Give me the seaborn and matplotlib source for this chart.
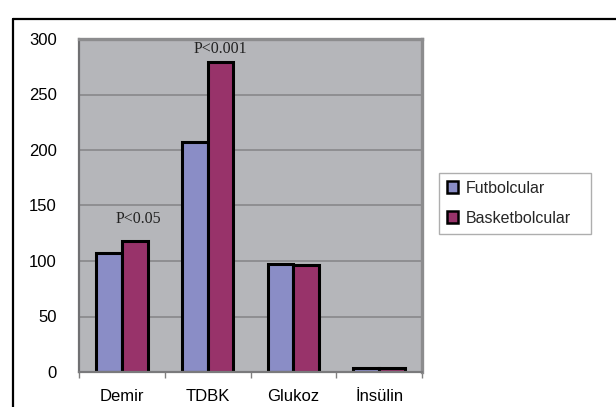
import matplotlib
matplotlib.use("Agg")
import matplotlib.pyplot as plt
from matplotlib.lines import Line2D
from matplotlib.patches import Rectangle
from matplotlib.ticker import FixedLocator, MultipleLocator
import numpy as np
import pandas as pd
import seaborn as sns

# Mean values per parameter for the two athlete groups
categories = ["Demir", "TDBK", "Glukoz", "İnsülin"]
futbolcular = [107, 207, 97, 4]
basketbolcular = [118, 279, 96, 4]
groups = ["Futbolcular", "Basketbolcular"]

# Significance notes shown above the basketball bars
sig_labels = ["P<0.05", "P<0.001"]
sig_categories = ["Demir", "TDBK"]

colors = {"Futbolcular": "#8A8DC6", "Basketbolcular": "#98336A"}
plot_bg = "#B5B6BA"
grid_col = "#848486"

df = pd.DataFrame({
    "Parametre": categories * 2,
    "Deger": futbolcular + basketbolcular,
    "Grup": [groups[0]] * len(categories) + [groups[1]] * len(categories),
})

sns.set_style("white")
plt.rcParams["font.family"] = ["Liberation Sans", "DejaVu Sans"]

fig = plt.figure(figsize=(6.16, 4.07), dpi=100)
ax = fig.add_axes([79 / 616, 35 / 407, 343 / 616, 333 / 407])
ax.set_facecolor(plot_bg)

sns.barplot(data=df, x="Parametre", y="Deger", hue="Grup", order=categories,
            hue_order=groups, palette=colors, width=0.6, gap=0,
            edgecolor="black", linewidth=2.2, saturation=1, ax=ax,
            legend=False, zorder=3)

ax.set_ylim(0, 300)
ax.set_xlim(-0.5, len(categories) - 0.5)
ax.set_xlabel("")
ax.set_ylabel("")

# horizontal gridlines
ax.yaxis.set_major_locator(MultipleLocator(50))
ax.grid(axis="y", color=grid_col, linewidth=1.1, zorder=1)
ax.grid(axis="x", visible=False)
ax.set_axisbelow(True)

# ticks: y ticks outward, x ticks between categories
ax.tick_params(axis="y", which="major", length=4.5, width=1, color="#808080",
               pad=11.5, labelsize=12, labelcolor="black")
ax.xaxis.set_minor_locator(FixedLocator(np.arange(-0.5, len(categories), 1.0)))
ax.tick_params(axis="x", which="major", length=0, pad=12.5, labelsize=12,
               labelcolor="black")
ax.tick_params(axis="x", which="minor", length=4.5, width=1, color="#808080",
               bottom=True)

# plot-area border
ax.spines["left"].set_color("#707072")
ax.spines["left"].set_linewidth(1.6)
ax.spines["bottom"].set_color("#7a7a7c")
ax.spines["bottom"].set_linewidth(1.6)
for side in ("top", "right"):
    ax.spines[side].set_visible(True)
    ax.spines[side].set_color("#8c8c8e")
    ax.spines[side].set_linewidth(2.4)
for sp in ax.spines.values():
    sp.set_zorder(4)

# significance annotations, placed above the basketball bars
basket_bars = ax.containers[1]
for lab, cat in zip(sig_labels, sig_categories):
    i = categories.index(cat)
    bar = basket_bars[i]
    xc = bar.get_x() + bar.get_width() / 2
    yv = bar.get_height()
    off = 13 if yv < 200 else 4.5
    dx = 0.04 if yv < 200 else 0.0
    ax.text(xc + dx, yv + off, lab, ha="center", va="bottom",
            family=["Liberation Serif", "DejaVu Serif"], fontsize=11.5,
            color="#222222", zorder=5)

# legend
handles = [Rectangle((0, 0), 1, 1, facecolor=colors[g], edgecolor="black",
                     linewidth=1.8) for g in groups]
leg = fig.legend(handles, groups, loc="upper left",
                 bbox_to_anchor=(439 / 616, 1 - 172.7 / 407, 152 / 616, 0.0),
                 bbox_transform=fig.transFigure, mode="expand",
                 borderaxespad=0, fontsize=11.5, frameon=True, fancybox=False,
                 handlelength=0.7, handleheight=0.75, handletextpad=0.5,
                 labelspacing=0.95, borderpad=0.5)
leg.get_frame().set_edgecolor("#9a9a9a")
leg.get_frame().set_linewidth(1.0)

# outer chart frame (runs off the right and bottom of the image)
x0 = 13 / 616
y0 = 1 - 19 / 407
fig.add_artist(Line2D([x0, x0], [-0.05, y0], color="black", linewidth=1.6,
                      transform=fig.transFigure))
fig.add_artist(Line2D([x0, 1.05], [y0, y0], color="black", linewidth=1.6,
                      transform=fig.transFigure))

fig.savefig("out.png", dpi=100, facecolor="white")
